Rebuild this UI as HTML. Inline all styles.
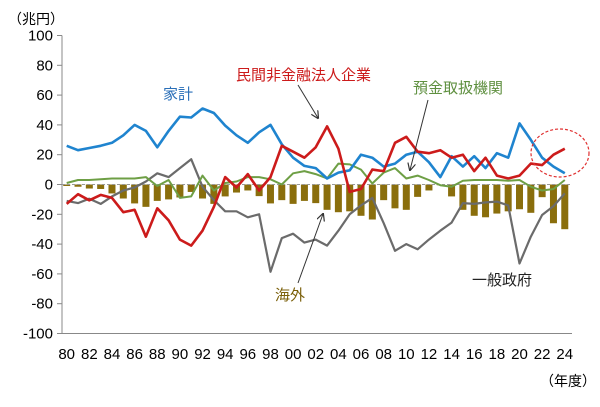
<!DOCTYPE html>
<html><head><meta charset="utf-8">
<style>
body{margin:0;background:#fff;}
svg text{font-family:"Liberation Sans","Noto Sans CJK JP",sans-serif;}
</style></head><body>
<svg id="c" width="600" height="402" viewBox="0 0 600 402" xmlns="http://www.w3.org/2000/svg">
<defs><marker id="ar" markerWidth="8" markerHeight="8" refX="7" refY="4" orient="auto" markerUnits="userSpaceOnUse"><path d="M0,0 L8,4 L0,8" fill="none" stroke="#333" stroke-width="1.2"/></marker></defs>
<g id="g"></g>
</svg>
<script>
var Z=184.5,S=1.49,X0=66.7,DX=11.32;
function Y(v){return Z-v*S;}function Xp(i){return X0+i*DX;}
var blue=[26,23,24.5,26,28,33,40,36,25,36,45.5,45,51,48,39.5,33,28,35,40,27,18,12.5,11,4,8,9.5,20,18,12,14,20,22,15,5,19,12,19,11,21,18,41,30,18,12,7.5];
var red=[-13,-6.5,-10.6,-7,-9,-18.6,-17,-35,-16,-24,-37,-41,-31,-15,5,-2,7,-4,5,26,22,18,25,39,24,-5,-3,10,9,28,32,22,21,23,18,20,9,18,6,4,6,14,13,20,24];
var green=[1,3,3,3.5,4,4,4,5,-1,3,-9,-8,6,-4,1,2,5,5,3.5,0,7.5,9,7,4,14,13.5,10,0.7,8,11,4,6,3,-0.5,-1.5,2.5,3,3,3,2.5,3,-1.5,-4,-3,3];
var gray=[-11,-12.5,-9.5,-13,-8,-4,-2,2,7.5,5,11,17,-1.5,-10.5,-18,-18,-22,-20,-58.6,-36,-33,-39,-37,-41,-31,-20,-14,-9,-26,-44.5,-40,-43.5,-37,-31,-25.6,-12.5,-13,-12,-11.5,-14,-53,-35,-20.5,-14.5,-6];
var bars=[-1,-1.5,-2.7,-3,-6,-9.4,-12.7,-15,-11,-10,-8.7,-5,-9.4,-13,-8,-5.4,-4,-7.8,-12.7,-10.5,-13,-11,-12.5,-17,-18.6,-18,-21,-23.5,-10.5,-16,-17,-8.3,-4,-0.5,-8,-17,-21,-22,-19.5,-18,-16.6,-19,-8.5,-26,-30];
var s='';
// axis & ticks
s+='<line x1="62" y1="'+Y(100)+'" x2="62" y2="'+Y(-100)+'" stroke="#888" stroke-width="1"/>';
s+='<line x1="62" y1="'+Y(-100)+'" x2="572" y2="'+Y(-100)+'" stroke="#888" stroke-width="1"/>';
for(var v=-100;v<=100;v+=20){s+='<line x1="57" y1="'+Y(v)+'" x2="62" y2="'+Y(v)+'" stroke="#888"/>';
s+='<text x="53" y="'+(Y(v)+5)+'" font-size="15" text-anchor="end" fill="#000">'+v+'</text>';}
for(var i=0;i<=44;i+=2){var yr=(80+i)%100;s+='<text x="'+Xp(i)+'" y="359" font-size="15" text-anchor="middle" fill="#000">'+(yr<10?'0'+yr:yr)+'</text>';}
// bars
for(var i=0;i<bars.length;i++){s+='<rect x="'+(Xp(i)-3.5)+'" y="'+Z+'" width="7" height="'+(-bars[i]*S)+'" fill="#8a6e0c"/>';}
s+='<line x1="62" y1="'+Z+'" x2="572" y2="'+Z+'" stroke="#999" stroke-dasharray="3,2"/>';
function pl(d,c,w){var p=d.map(function(v,i){return Xp(i).toFixed(1)+','+Y(v).toFixed(1)}).join(' ');
return '<polyline points="'+p+'" fill="none" stroke="'+c+'" stroke-width="'+w+'" stroke-linejoin="round"/>';}
s+=pl(gray,'#6b6b6b',2.2)+pl(green,'#6e9f45',2)+pl(blue,'#1f84cf',2.6)+pl(red,'#cc1b1b',2.6);
// labels
s+='<text x="8" y="24" font-size="14" fill="#000">（兆円）</text>';
s+='<text x="596" y="386" font-size="14" text-anchor="end" fill="#000">（年度）</text>';
s+='<text x="163" y="99" font-size="15" fill="#2a6fb8">家計</text>';
s+='<text x="236" y="80" font-size="15" fill="#cc1b1b">民間非金融法人企業</text>';
s+='<text x="413" y="93" font-size="15" fill="#5f9040">預金取扱機関</text>';
s+='<text x="275" y="300" font-size="15" fill="#7a5f08">海外</text>';
s+='<text x="472" y="285" font-size="15" fill="#222">一般政府</text>';
s+='<line x1="298" y1="85" x2="318" y2="118" stroke="#333" stroke-width="1" marker-end="url(#ar)"/>';
s+='<line x1="428" y1="100" x2="410" y2="170" stroke="#333" stroke-width="1" marker-end="url(#ar)"/>';
s+='<line x1="298" y1="283" x2="323" y2="214" stroke="#333" stroke-width="1" marker-end="url(#ar)"/>';
s+='<ellipse cx="560" cy="153" rx="29" ry="24" fill="none" stroke="#e03030" stroke-width="1.2" stroke-dasharray="3,2"/>';
document.getElementById('g').innerHTML=s;
</script>
</body></html>
